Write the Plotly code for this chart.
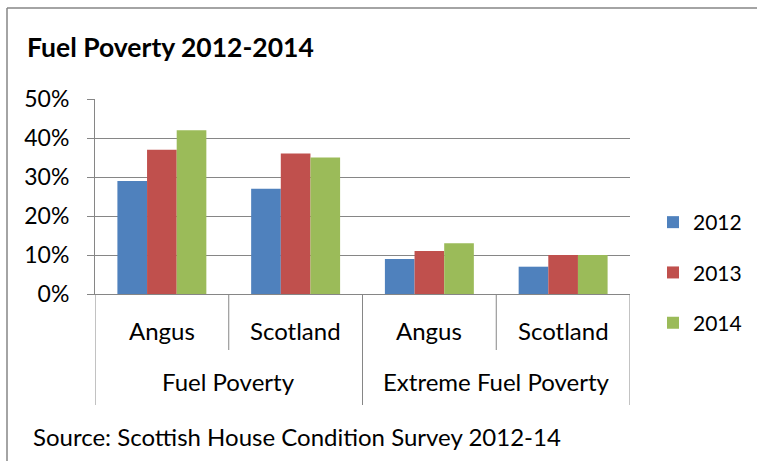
import plotly.graph_objects as go

outer_groups = ["Fuel Poverty", "Fuel Poverty", "Extreme Fuel Poverty", "Extreme Fuel Poverty"]
inner_labels = ["Angus", "Scotland", "Angus", "Scotland"]
years = ["2012", "2013", "2014"]
values_2012 = [0.29, 0.27, 0.09, 0.07]
values_2013 = [0.37, 0.36, 0.11, 0.10]
values_2014 = [0.42, 0.35, 0.13, 0.10]
colors = ["#4F81BD", "#C0504D", "#9BBB59"]
y_ticks = [0, 0.1, 0.2, 0.3, 0.4, 0.5]

FONT = "Lato"
GREY = "#868686"

cats = [f"{o}|{i}" for o, i in zip(outer_groups, inner_labels)]

fig = go.Figure()
for yr, vals, col in zip(years, [values_2012, values_2013, values_2014], colors):
    fig.add_trace(go.Bar(x=cats, y=vals, name=yr, marker=dict(color=col, line=dict(width=0)),
                         legendgroup=yr))

W, H = 757, 461
L, R, T, B = 95, 630, 99, 294
PW, PH = R - L, B - T

fig.update_layout(
    width=W, height=H, autosize=False,
    margin=dict(l=L, r=W - R, t=T, b=H - B, pad=0),
    paper_bgcolor="white", plot_bgcolor="white",
    font=dict(family=FONT, size=22, color="black"),
    barmode="group", bargap=0.335, bargroupgap=0,
    title=dict(text="<b>Fuel Poverty 2012-2014</b>", x=27 / W, xanchor="left", xref="container",
               y=1 - 48 / H, yanchor="middle", yref="container",
               font=dict(family=FONT, size=26.5, color="black")),
    legend=dict(xref="container", yref="container", x=653 / W, xanchor="left",
                y=1 - 202 / H, yanchor="top",
                font=dict(family=FONT, size=21), tracegroupgap=20, bgcolor="rgba(0,0,0,0)"),
    showlegend=True,
)

fig.update_yaxes(range=[0, 0.5], tickvals=y_ticks, tickformat=".0%", showgrid=True, gridcolor=GREY,
                 gridwidth=1, ticks="outside", ticklen=7, tickcolor=GREY, showline=True, linecolor=GREY,
                 linewidth=1, zeroline=False, ticklabelstandoff=13, tickfont=dict(family=FONT, size=23))
fig.update_xaxes(showticklabels=False, showline=True, linecolor=GREY, linewidth=1, ticks="",
                 range=[-0.5, 3.5])

shapes = []
# inner separators
for xb in [0.5, 2.5]:
    shapes.append(dict(type="line", xref="x", yref="paper", x0=xb, x1=xb, y0=0, y1=-56 / PH,
                       line=dict(color=GREY, width=1)))
# outer separators
for xb in [-0.5, 1.5, 3.5]:
    shapes.append(dict(type="line", xref="x", yref="paper", x0=xb, x1=xb, y0=0, y1=-111 / PH,
                       line=dict(color=GREY, width=1)))
# chart border (top and left edges visible)
shapes.append(dict(type="line", xref="paper", yref="paper",
                   x0=(7 - L) / PW, x1=(W - L) / PW, y0=(B - 8) / PH, y1=(B - 8) / PH,
                   line=dict(color=GREY, width=1.5)))
shapes.append(dict(type="line", xref="paper", yref="paper",
                   x0=(7 - L) / PW, x1=(7 - L) / PW, y0=(B - 8) / PH, y1=(B - H) / PH,
                   line=dict(color=GREY, width=1.5)))
fig.update_layout(shapes=shapes)

annotations = []
for i, lab in enumerate(inner_labels):
    annotations.append(dict(x=i, xref="x", y=-(330 - B) / PH, yref="paper", text=lab,
                            showarrow=False, xanchor="center", yanchor="middle",
                            font=dict(family=FONT, size=24)))
seen = []
for o in outer_groups:
    if o in seen:
        continue
    seen.append(o)
    idx = [j for j, g in enumerate(outer_groups) if g == o]
    annotations.append(dict(x=sum(idx) / len(idx), xref="x", y=-(381 - B) / PH, yref="paper",
                            text=o, showarrow=False, xanchor="center", yanchor="middle",
                            font=dict(family=FONT, size=24)))
annotations.append(dict(x=(31 - L) / PW, xref="paper", xanchor="left", y=(B - 436) / PH, yref="paper",
                        yanchor="middle", text="Source: Scottish House Condition Survey 2012-14",
                        showarrow=False, font=dict(family=FONT, size=24)))
fig.update_layout(annotations=annotations)

fig.write_html("out.html", config={"displayModeBar": False},
               post_script="document.documentElement.style.overflow='hidden';"
                           "document.body.style.overflow='hidden';document.body.style.margin='0';")
